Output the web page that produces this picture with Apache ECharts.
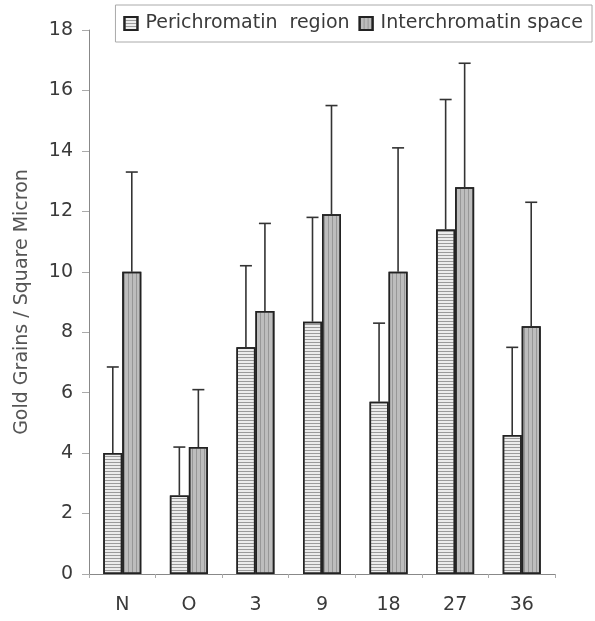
<!DOCTYPE html>
<html><head><meta charset="utf-8">
<script src="https://cdn.jsdelivr.net/npm/echarts@6/dist/echarts.min.js"></script>
<style>html,body{margin:0;padding:0;background:#fff}#c{width:595px;height:621px}</style>
</head><body><div id="c"></div>
<script>
const categories = ['N','O','3','9','18','27','36'];
const periValues = [4.0, 2.6, 7.5, 8.35, 5.7, 11.4, 4.6];
const periErrTop = [6.85, 4.2, 10.2, 11.8, 8.3, 15.7, 7.5];
const interValues = [10.0, 4.2, 8.7, 11.9, 10.0, 12.8, 8.2];
const interErrTop = [13.3, 6.1, 11.6, 15.5, 14.1, 16.9, 12.3];
const yTicks = [0,2,4,6,8,10,12,14,16,18];

const BW = 19;
const FONT = 'DejaVu Sans, sans-serif';
const chart = echarts.init(document.getElementById('c'));

function errSeries(name, vals, tops, offset) {
  return {
    type: 'custom', name: name + ' err', silent: true, z: 5,
    data: categories.map((c,i)=>[i, vals[i], tops[i]]),
    encode: {x:0, y:[1,2]},
    renderItem: function(params, api){
      const i = api.value(0);
      const p0 = api.coord([i, api.value(1)]);
      const p1 = api.coord([i, api.value(2)]);
      const x = p0[0] + offset;
      const st = {stroke:'#333', lineWidth:1.6};
      return {type:'group', children:[
        {type:'line', shape:{x1:x,y1:p0[1],x2:x,y2:p1[1]}, style:st},
        {type:'line', shape:{x1:x-6,y1:p1[1],x2:x+6,y2:p1[1]}, style:st}
      ]};
    }
  };
}

const periDecal = {symbol:'rect', symbolSize:1, dashArrayX:[1,0], dashArrayY:[1,2], color:'rgba(90,90,90,0.55)'};
const interDecal = {symbol:'rect', symbolSize:1, dashArrayX:[1,3], dashArrayY:[1,0], color:'rgba(80,80,80,0.35)'};

chart.setOption({
  animation:false,
  textStyle:{fontFamily:FONT},
  legend:{
    top:5, right:3, itemWidth:13, itemHeight:13, itemGap:9, icon:'rect',
    padding:[9,9,9,8], borderColor:'#aaa', borderWidth:1,
    textStyle:{fontSize:19, color:'#3a3a3a', fontFamily:FONT, padding:[0,0,0,3]},
    data:[{name:'Perichromatin  region'},{name:'Interchromatin space'}]
  },
  grid:{left:89, right:40, top:30, bottom:47},
  xAxis:{
    type:'category', data:categories,
    axisLine:{lineStyle:{color:'#888', width:1}},
    axisTick:{show:true, length:4, lineStyle:{color:'#aaa'}},
    axisLabel:{fontSize:19, color:'#3a3a3a', margin:22, fontFamily:FONT}
  },
  yAxis:{
    type:'value', min:0, max:18, interval:2,
    name:'Gold Grains / Square Micron', nameLocation:'middle', nameGap:57, nameRotate:90,
    nameTextStyle:{fontSize:19, color:'#555', fontFamily:FONT},
    axisLine:{show:true, lineStyle:{color:'#888'}},
    axisTick:{show:true, length:7, lineStyle:{color:'#aaa'}},
    axisLabel:{fontSize:19, color:'#3a3a3a', margin:16, fontFamily:FONT, formatter: v => yTicks.includes(v) ? String(v) : ''},
    splitLine:{show:false}
  },
  series:[
    {type:'bar', name:'Perichromatin  region', data:periValues, barWidth:BW, barGap:'0%',
     itemStyle:{color:'#ececec', borderColor:'#222', borderWidth:1.5, decal:periDecal}},
    {type:'bar', name:'Interchromatin space', data:interValues, barWidth:BW,
     itemStyle:{color:'#bdbdbd', borderColor:'#222', borderWidth:1.5, decal:interDecal}},
    errSeries('peri', periValues, periErrTop, -BW/2),
    errSeries('inter', interValues, interErrTop, BW/2)
  ]
});
</script></body></html>
